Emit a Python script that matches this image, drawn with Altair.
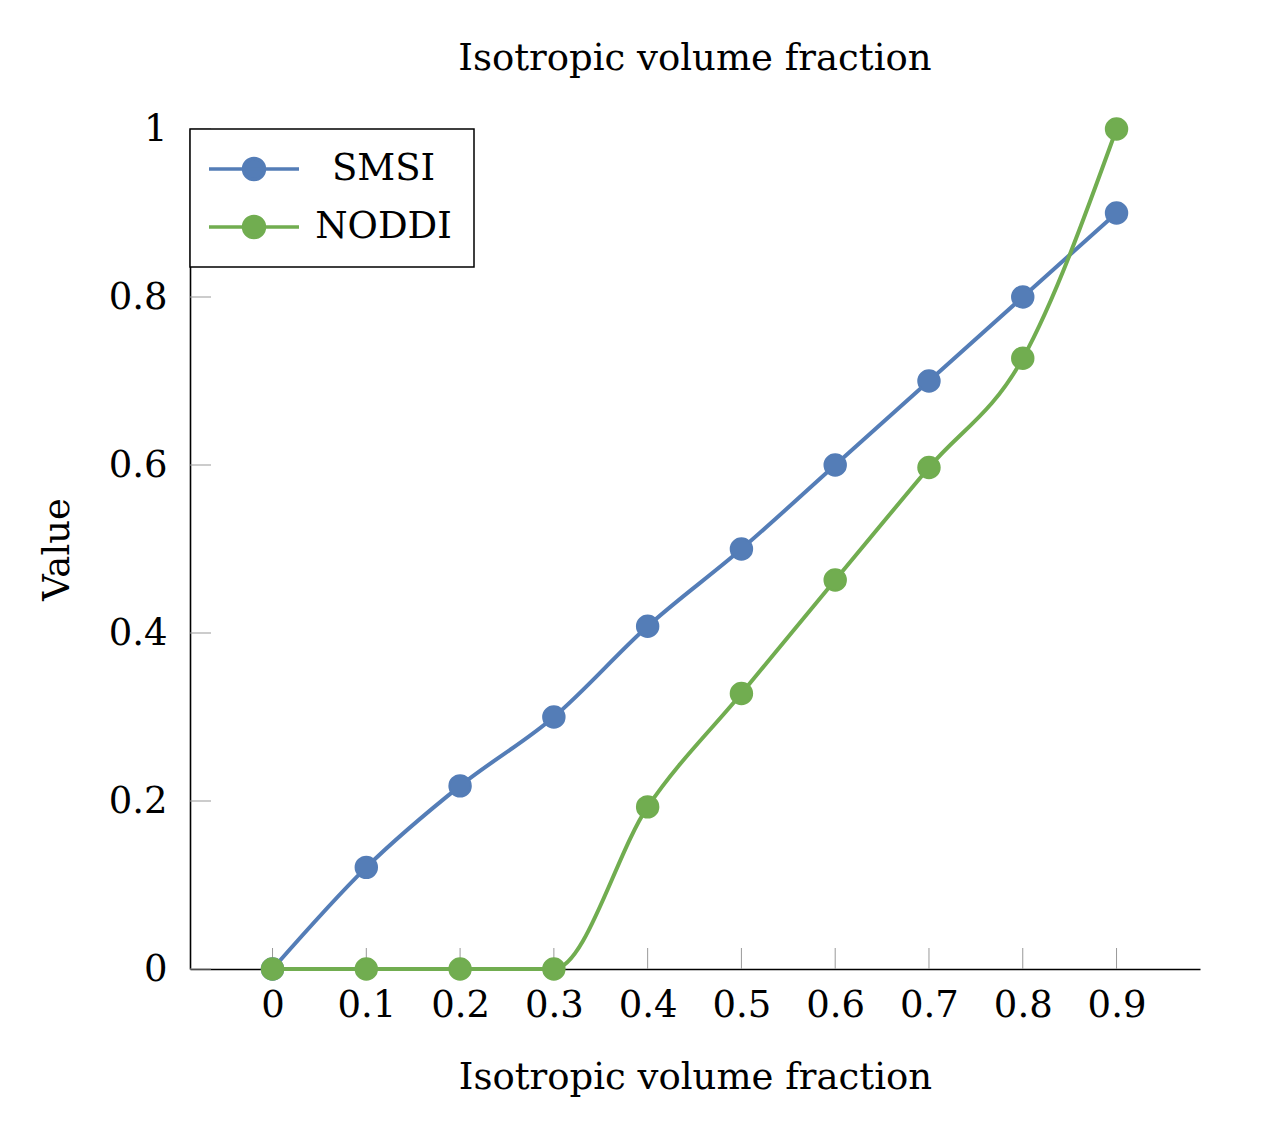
import altair as alt
import pandas as pd

# ---- data ----
x_vals = [0.0, 0.1, 0.2, 0.3, 0.4, 0.5, 0.6, 0.7, 0.8, 0.9]
smsi = [0.0, 0.121, 0.218, 0.300, 0.408, 0.500, 0.600, 0.700, 0.800, 0.900]
noddi = [0.0, 0.0, 0.0, 0.0, 0.193, 0.328, 0.463, 0.597, 0.727, 1.0]
series_names = ["SMSI", "NODDI"]
series_colors = ["#547DB7", "#71AD50"]
x_ticks = [0.0, 0.1, 0.2, 0.3, 0.4, 0.5, 0.6, 0.7, 0.8, 0.9]
y_ticks = [0.0, 0.2, 0.4, 0.6, 0.8, 1.0]
chart_title = "Isotropic volume fraction"
x_title = "Isotropic volume fraction"
y_title = "Value"

FONT = "DejaVu Serif"
FS = 37
W, H = 1010, 840

df = pd.DataFrame({
    "x": x_vals + x_vals,
    "value": smsi + noddi,
    "series": [series_names[0]] * len(x_vals) + [series_names[1]] * len(x_vals),
})
df_xt = pd.DataFrame({"x": x_ticks})
df_yt = pd.DataFrame({"value": y_ticks})

xscale = alt.Scale(domain=[-0.088, 0.989], nice=False, zero=False)
yscale = alt.Scale(domain=[0, 1], nice=False, zero=False)

xaxis = alt.Axis(values=x_ticks, format="~g", title=x_title, ticks=False, tickSize=0,
                 grid=False, labelPadding=18, titlePadding=36, domainColor="black",
                 domainWidth=1.6, labelFont=FONT, labelFontSize=FS, labelColor="black",
                 titleFont=FONT, titleFontSize=FS, titleFontWeight="normal", titleColor="black")
yaxis = alt.Axis(values=y_ticks, format="~g", title=y_title, ticks=False, tickSize=0,
                 grid=False, labelPadding=23, titlePadding=32, domainColor="black",
                 domainWidth=1.6, labelFont=FONT, labelFontSize=FS, labelColor="black",
                 titleFont=FONT, titleFontSize=FS, titleFontWeight="normal", titleColor="black")

X = alt.X("x:Q", scale=xscale, axis=xaxis)
Y = alt.Y("value:Q", scale=yscale, axis=yaxis)

sym_path = "M-3,0H3M-0.7,0A0.7,0.7,0,1,1,0.7,0A0.7,0.7,0,1,1,-0.7,0Z"


def make_legend():
    return alt.Legend(
        title=None, orient="top-left", offset=0, padding=21.5,
        strokeColor="black", fillColor="white",
        labelFont=FONT, labelFontSize=FS, labelColor="black", labelAlign="center",
        labelOffset=111, symbolType=sym_path, symbolSize=900, symbolOffset=24,
        symbolStrokeWidth=3.5, symbolOpacity=1,
    )


cscale = alt.Scale(domain=series_names, range=series_colors)
S = alt.Stroke("series:N", scale=cscale, legend=make_legend())
F = alt.Fill("series:N", scale=cscale, legend=make_legend())

xticks_layer = alt.Chart(df_xt).mark_rule(color="#999999", strokeWidth=1).encode(
    x=X, y=alt.value(H), y2=alt.value(H - 21))
yticks_layer = alt.Chart(df_yt).mark_rule(color="#999999", strokeWidth=1).encode(
    y=Y, x=alt.value(0), x2=alt.value(21))

layers = [xticks_layer, yticks_layer]
base = alt.Chart(df)
for name in series_names:
    sub = base.transform_filter(alt.datum.series == name)
    layers.append(sub.mark_line(strokeWidth=4, interpolate="monotone").encode(x=X, y=Y, stroke=S))
    layers.append(sub.mark_point(filled=True, size=460, strokeWidth=2, opacity=1).encode(
        x=X, y=Y, fill=F, stroke=S))

chart = alt.layer(*layers).properties(
    width=W, height=H,
    title=alt.TitleParams(chart_title, font=FONT, fontSize=FS, fontWeight="normal",
                          color="black", anchor="middle", baseline="alphabetic", offset=3),
    padding={"left": 182, "top": 121, "right": 75, "bottom": 140},
    autosize=alt.AutoSizeParams(type="none"),
).configure_view(strokeWidth=0).configure_legend(strokeWidth=1.5, rowPadding=20)

chart.save("out.html", embed_options={"renderer": "svg", "actions": False})
